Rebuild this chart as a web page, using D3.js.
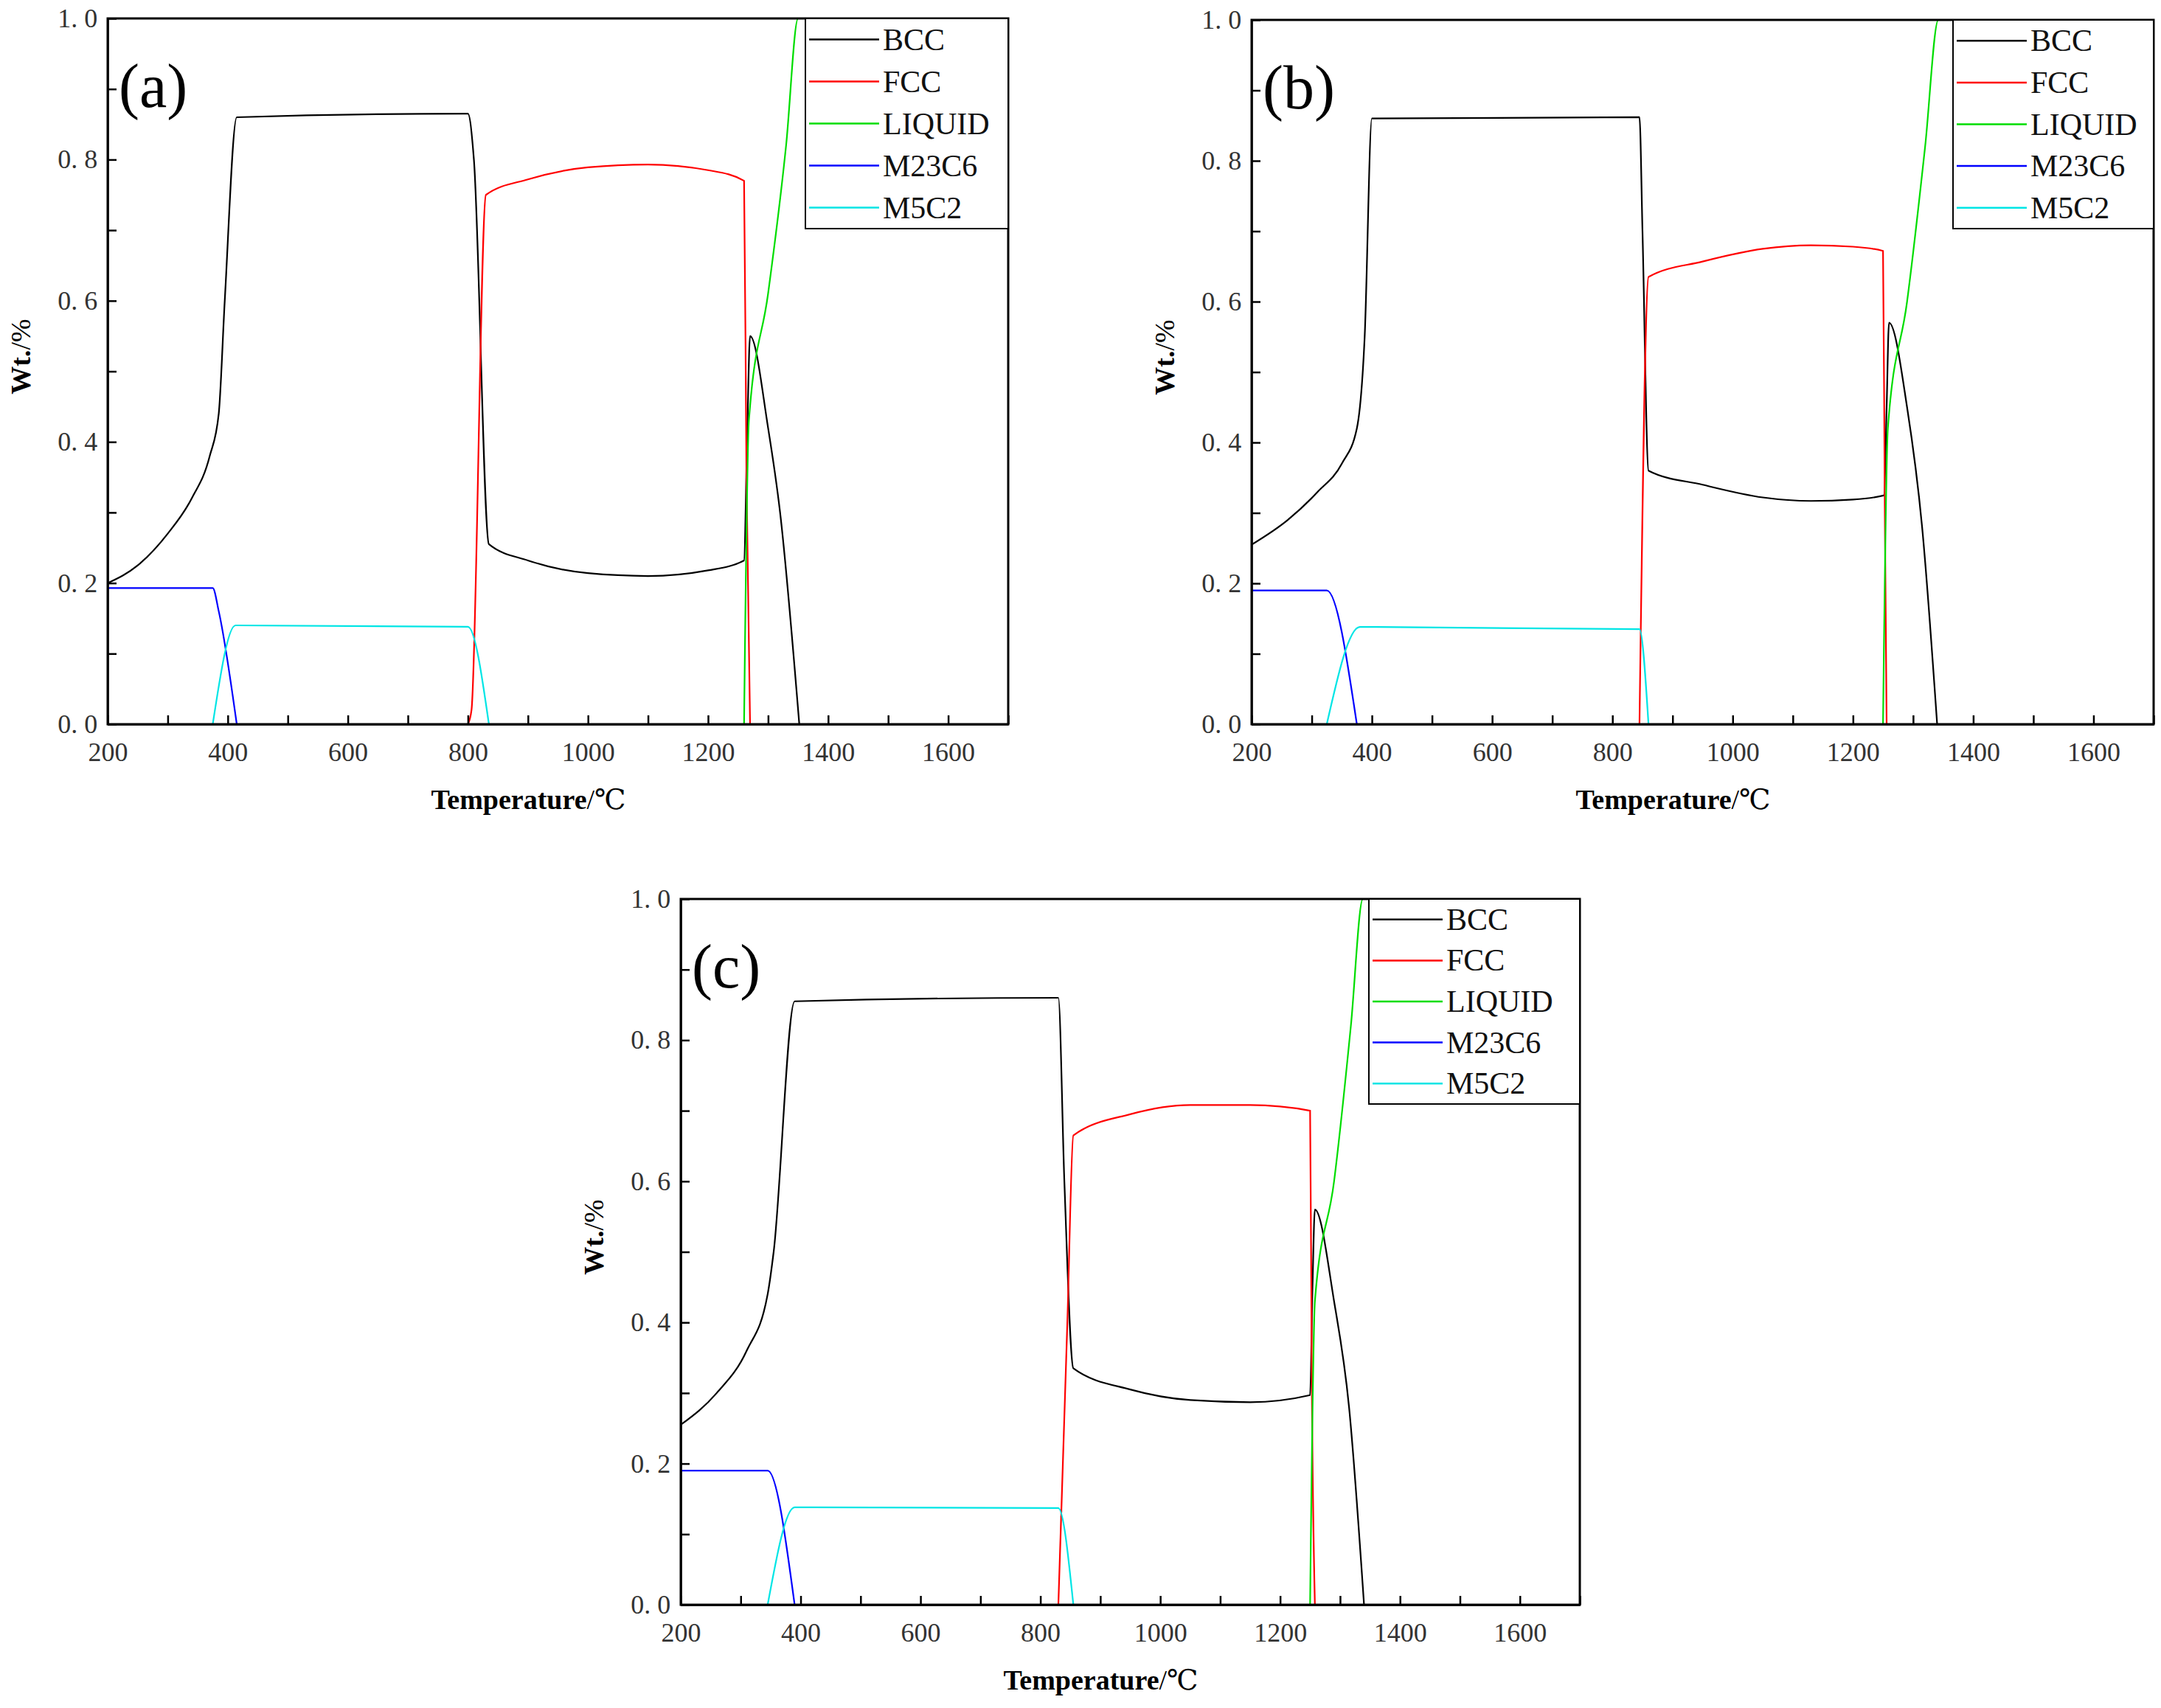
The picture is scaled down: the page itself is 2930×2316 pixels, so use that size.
<!DOCTYPE html>
<html lang="en">
<head>
<meta charset="UTF-8">
<title>Phase fraction vs temperature</title>
<script src="https://d3js.org/d3.v7.min.js"></script>
<style>
  body { margin: 0; background: #fff; }
  svg { font-family: "Liberation Serif", "DejaVu Serif", serif; }
</style>
</head>
<body>
<div id="chart"></div>
<script>
// phases and colours
const phases = ["BCC", "FCC", "LIQUID", "M23C6", "M5C2"];
const colors = ["#000000", "#ff0000", "#00dd00", "#0000ff", "#00e5e5"];
const xTicks = [200, 400, 600, 800, 1000, 1200, 1400, 1600];
const yTicks = [0, 0.2, 0.4, 0.6, 0.8, 1.0];

// panel (a)
const bccA = [[200,0.2],[250,0.225],[300,0.27],[340,0.32],[370,0.38],[385,0.44],[395,0.6],[415,0.86],[800,0.865],[810,0.8],[835,0.255],[900,0.232],[1000,0.214],[1100,0.21],[1200,0.218],[1260,0.232],[1265,0.4],[1270,0.55],[1300,0.42],[1320,0.3],[1352,0]];
const fccA = [[800,0],[806,0.02],[830,0.75],[900,0.772],[1000,0.789],[1100,0.793],[1200,0.785],[1260,0.77],[1264,0.35],[1270,0]];
const liqA = [[1260,0],[1268,0.43],[1300,0.61],[1330,0.82],[1350,1.0],[1700,1.0]];
const m23A = [[200,0.193],[375,0.193],[385,0.16],[415,0]];
const m5A = [[375,0],[413,0.14],[800,0.138],[835,0]];

// panel (b)
const bccB = [[200,0.255],[260,0.29],[310,0.33],[350,0.37],[375,0.42],[388,0.55],[400,0.86],[845,0.862],[850,0.7],[860,0.36],[950,0.34],[1050,0.322],[1130,0.317],[1200,0.319],[1252,0.325],[1256,0.45],[1260,0.57],[1290,0.45],[1315,0.28],[1340,0]];
const fccB = [[845,0],[860,0.635],[950,0.657],[1050,0.675],[1130,0.68],[1200,0.678],[1250,0.672],[1253,0.3],[1256,0]];
const liqB = [[1250,0],[1258,0.42],[1290,0.6],[1320,0.82],[1342,1.0],[1700,1.0]];
const m23B = [[200,0.19],[325,0.19],[375,0]];
const m5B = [[325,0],[380,0.138],[845,0.135],[860,0]];

// panel (c)
const bccC = [[200,0.255],[260,0.3],[310,0.36],[345,0.44],[355,0.5],[390,0.855],[830,0.86],[840,0.6],[855,0.335],[950,0.305],[1050,0.29],[1150,0.287],[1250,0.297],[1254,0.45],[1258,0.56],[1290,0.43],[1315,0.28],[1340,0]];
const fccC = [[830,0],[845,0.4],[855,0.665],[950,0.695],[1050,0.708],[1150,0.708],[1250,0.7],[1253,0.3],[1258,0]];
const liqC = [[1250,0],[1258,0.43],[1290,0.6],[1318,0.82],[1338,1.0],[1700,1.0]];
const m23C = [[200,0.19],[345,0.19],[390,0]];
const m5C = [[345,0],[390,0.138],[830,0.137],[855,0]];

const panels = [
  { label: "(a)", box: [146, 25, 1367, 982], series: [bccA, fccA, liqA, m23A, m5A], legend: [1092, 25, 1367, 310] },
  { label: "(b)", box: [1697, 27, 2920, 982], series: [bccB, fccB, liqB, m23B, m5B], legend: [2648, 27, 2920, 310] },
  { label: "(c)", box: [923, 1219, 2142, 2176], series: [bccC, fccC, liqC, m23C, m5C], legend: [1856, 1219, 2142, 1497] }
];

const svg = d3.select("#chart").append("svg")
  .attr("width", 2930).attr("height", 2316);

panels.forEach((p, pi) => {
  const [x0, y0, x1, y1] = p.box;
  const x = d3.scaleLinear().domain([200, 1700]).range([x0, x1]);
  const y = d3.scaleLinear().domain([0, 1]).range([y1, y0]);
  const g = svg.append("g");

  const clipId = "clip" + pi;
  g.append("clipPath").attr("id", clipId).append("rect")
    .attr("x", x0).attr("y", y0 - 2).attr("width", x1 - x0).attr("height", y1 - y0 + 2);

  const line = d3.line().x(d => x(d[0])).y(d => y(d[1])).curve(d3.curveMonotoneX);
  p.series.forEach((s, i) => {
    g.append("path").datum(s)
      .attr("clip-path", `url(#${clipId})`)
      .attr("fill", "none").attr("stroke", colors[i]).attr("stroke-width", 2.2)
      .attr("d", line);
  });

  // axes with inward ticks
  const xAx = g.append("g").attr("transform", `translate(0,${y1})`)
    .call(d3.axisBottom(x).tickValues(d3.range(200, 1701, 100)).tickSizeInner(-12).tickSizeOuter(0)
      .tickFormat(d => xTicks.includes(d) ? d : ""));
  const yAx = g.append("g").attr("transform", `translate(${x0},0)`)
    .call(d3.axisLeft(y).tickValues(d3.range(0, 1.01, 0.1)).tickSizeInner(-12).tickSizeOuter(0)
      .tickFormat(d => yTicks.some(t => Math.abs(t - d) < 1e-6) ? d.toFixed(1).replace(".", ". ") : ""));
  [xAx, yAx].forEach(a => {
    a.selectAll("path,line").attr("stroke", "#000").attr("stroke-width", 2.5);
    a.selectAll("text").attr("font-size", 36).attr("fill", "#333").attr("font-family", "Liberation Serif, serif");
  });
  xAx.selectAll("text").attr("dy", "1.3em");
  yAx.selectAll("text").attr("dx", "-0.3em");

  g.append("rect").attr("x", x0).attr("y", y0).attr("width", x1 - x0).attr("height", y1 - y0)
    .attr("fill", "none").attr("stroke", "#000").attr("stroke-width", 3);

  // axis titles
  const xt = g.append("text").attr("x", (x0 + x1) / 2 - 40).attr("y", y1 + 115)
    .attr("text-anchor", "middle").attr("font-size", 38);
  xt.append("tspan").attr("font-weight", "bold").text("Temperature");
  xt.append("tspan").text("/℃");
  const yt = g.append("text")
    .attr("transform", `translate(${x0 - 105},${(y0 + y1) / 2 - 20}) rotate(-90)`)
    .attr("text-anchor", "middle").attr("font-size", 38);
  yt.append("tspan").attr("font-weight", "bold").text("Wt.");
  yt.append("tspan").text("/%");

  g.append("text").attr("x", x0 + 15).attr("y", y0 + 120)
    .attr("font-size", 84).text(p.label);

  // legend
  const [lx0, ly0, lx1, ly1] = p.legend;
  g.append("rect").attr("x", lx0).attr("y", ly0).attr("width", lx1 - lx0).attr("height", ly1 - ly0)
    .attr("fill", "#fff").attr("stroke", "#000").attr("stroke-width", 2);
  const step = (ly1 - ly0) / 5;
  phases.forEach((name, i) => {
    const cy = ly0 + step * (i + 0.5);
    g.append("line").attr("x1", lx0 + 5).attr("x2", lx0 + 100).attr("y1", cy).attr("y2", cy)
      .attr("stroke", colors[i]).attr("stroke-width", 2.5);
    g.append("text").attr("x", lx0 + 105).attr("y", cy + 14)
      .attr("font-size", 42).attr("fill", "#111").text(name);
  });
});
</script>
</body>
</html>
